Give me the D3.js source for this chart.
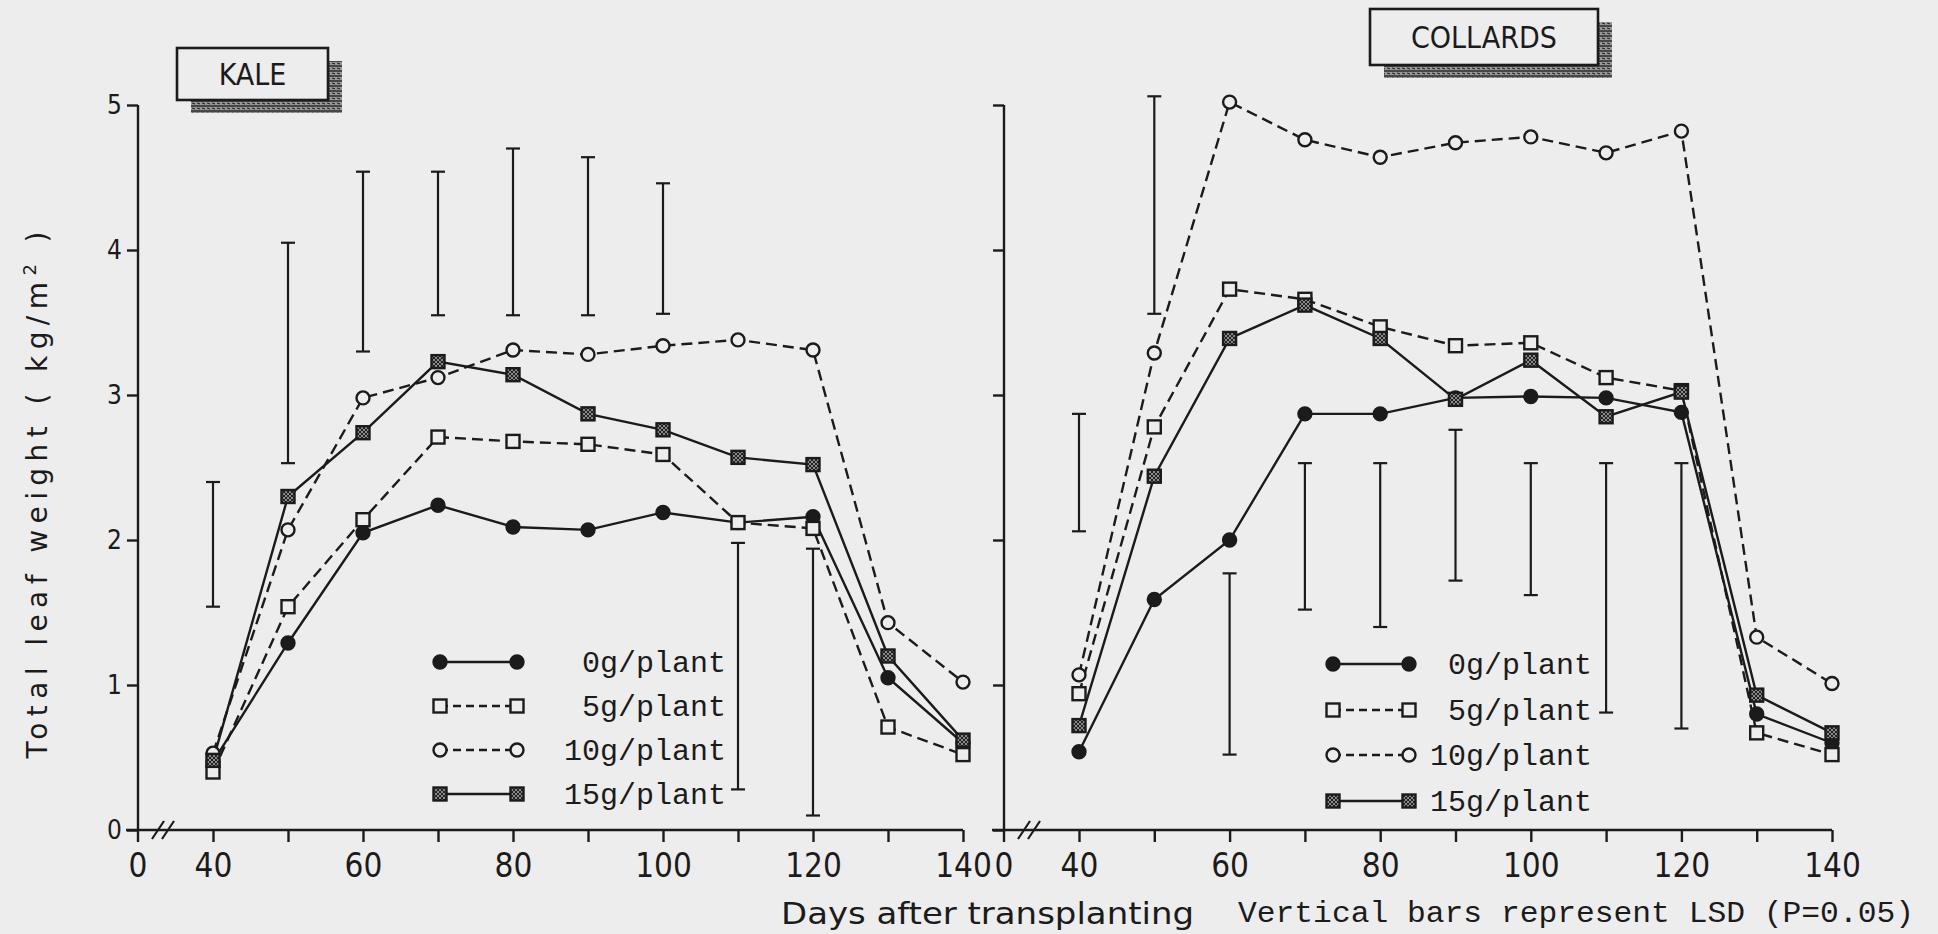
<!DOCTYPE html>
<html>
<head>
<meta charset="utf-8">
<script src="https://cdn.jsdelivr.net/npm/d3@7"></script>
<style>
body { margin: 0; background: #ededed; }
svg { display: block; }
.axis path, .axis line { stroke: #1b1b1b; stroke-width: 2.4; }
.axis text { font-family: "Liberation Sans Narrow", "DejaVu Sans Condensed", sans-serif; fill: #1b1b1b; }
.series { fill: none; stroke: #1b1b1b; stroke-width: 2.4; }
.lsd { stroke: #1b1b1b; stroke-width: 2.2; }
.mono { font-family: "Liberation Mono", "DejaVu Sans Mono", monospace; fill: #1b1b1b; }
.sans { font-family: "Liberation Sans Narrow", "DejaVu Sans Condensed", sans-serif; fill: #1b1b1b; }
</style>
</head>
<body>
<div id="chart"></div>
<script>
var days = [40, 50, 60, 70, 80, 90, 100, 110, 120, 130, 140];
var xLabels = [40, 60, 80, 100, 120, 140];
var yTicks = [0, 1, 2, 3, 4, 5];
var rates = ["0g/plant", "5g/plant", "10g/plant", "15g/plant"];

// kale, total leaf weight kg/m2
var kale0  = [0.47, 1.29, 2.05, 2.24, 2.09, 2.07, 2.19, 2.12, 2.16, 1.05, 0.60];
var kale5  = [0.40, 1.54, 2.14, 2.71, 2.68, 2.66, 2.59, 2.12, 2.08, 0.71, 0.52];
var kale10 = [0.53, 2.07, 2.98, 3.12, 3.31, 3.28, 3.34, 3.38, 3.31, 1.43, 1.02];
var kale15 = [0.48, 2.30, 2.74, 3.23, 3.14, 2.87, 2.76, 2.57, 2.52, 1.20, 0.62];

// collards
var coll0  = [0.54, 1.59, 2.00, 2.87, 2.87, 2.98, 2.99, 2.98, 2.88, 0.80, 0.60];
var coll5  = [0.94, 2.78, 3.73, 3.66, 3.47, 3.34, 3.36, 3.12, 3.03, 0.67, 0.52];
var coll10 = [1.07, 3.29, 5.02, 4.76, 4.64, 4.74, 4.78, 4.67, 4.82, 1.33, 1.01];
var coll15 = [0.72, 2.44, 3.39, 3.62, 3.39, 2.97, 3.24, 2.85, 3.02, 0.93, 0.67];

// LSD bars (P=0.05)
var lsdDays = [40, 50, 60, 70, 80, 90, 100, 110, 120];
var kaleLsdLow  = [1.54, 2.53, 3.30, 3.55, 3.55, 3.55, 3.56, 0.28, 0.10];
var kaleLsdHigh = [2.40, 4.05, 4.54, 4.54, 4.70, 4.64, 4.46, 1.98, 1.94];
var collLsdLow  = [2.06, 3.56, 0.52, 1.52, 1.40, 1.72, 1.62, 0.81, 0.70];
var collLsdHigh = [2.87, 5.06, 1.77, 2.53, 2.53, 2.76, 2.53, 2.53, 2.53];

var W = 1938, H = 934, ink = "#1b1b1b", paper = "#ededed";

var styles = [
    { marker: "circle", fill: ink, dash: null },
    { marker: "square", fill: paper, dash: "11,6" },
    { marker: "circle", fill: paper, dash: "11,6" },
    { marker: "square", fill: "url(#hatch)", dash: null }
];

var svg = d3.select("#chart").append("svg")
    .attr("width", W)
    .attr("height", H);

var defs = svg.append("defs");
var hatch = defs.append("pattern")
    .attr("id", "hatch")
    .attr("width", 4).attr("height", 4)
    .attr("patternUnits", "userSpaceOnUse");
hatch.append("rect").attr("width", 4).attr("height", 4).attr("fill", "#8a8a8a");
hatch.append("path").attr("d", "M0,0L4,4M4,0L0,4").attr("stroke", "#222").attr("stroke-width", 1);

var speckle = defs.append("pattern")
    .attr("id", "speckle")
    .attr("width", 5).attr("height", 5)
    .attr("patternUnits", "userSpaceOnUse");
speckle.append("rect").attr("width", 5).attr("height", 5).attr("fill", "#9a9a9a");
speckle.append("path").attr("d", "M0,1L5,1M2,3L5,4").attr("stroke", "#2a2a2a").attr("stroke-width", 1.3);

svg.append("rect").attr("width", W).attr("height", H).attr("fill", paper);

var y = d3.scaleLinear().domain([0, 5]).range([830, 105]);

function drawMarker(g, style, cx, cy) {
    if (style.marker == "circle") {
        g.append("circle")
            .attr("cx", cx).attr("cy", cy).attr("r", 6.5)
            .attr("fill", style.fill).attr("stroke", ink).attr("stroke-width", 2.4);
    } else {
        g.append("rect")
            .attr("x", cx - 6.5).attr("y", cy - 6.5)
            .attr("width", 13).attr("height", 13)
            .attr("fill", style.fill).attr("stroke", ink).attr("stroke-width", 2.4);
    }
}

function drawPanel(p) {
    var x = d3.scaleLinear().domain([40, 140]).range(p.xRange);
    var g = svg.append("g");

    // axis lines with the break
    g.append("line")
        .attr("x1", p.axisX - 12).attr("x2", x(140))
        .attr("y1", y(0)).attr("y2", y(0))
        .attr("stroke", ink).attr("stroke-width", 2.6);
    g.append("line")
        .attr("x1", p.axisX).attr("x2", p.axisX)
        .attr("y1", y(0) + 12).attr("y2", y(5))
        .attr("stroke", ink).attr("stroke-width", 2.4);
    [p.axisX + 20, p.axisX + 30].forEach(function(bx) {
        g.append("line")
            .attr("x1", bx - 6).attr("y1", y(0) + 9)
            .attr("x2", bx + 6).attr("y2", y(0) - 9)
            .attr("stroke", ink).attr("stroke-width", 2.2);
    });

    var xAxis = g.append("g")
        .attr("class", "axis")
        .attr("transform", "translate(0," + y(0) + ")")
        .call(d3.axisBottom(x)
            .tickValues(days)
            .tickSize(12)
            .tickPadding(12)
            .tickFormat(function(d) { return xLabels.indexOf(d) >= 0 ? d : ""; }));
    xAxis.select(".domain").remove();
    xAxis.selectAll("text").style("font-size", "33px");

    // the "0" under the y axis, before the break
    xAxis.append("text")
        .attr("x", p.axisX).attr("y", 24)
        .attr("dy", "0.71em")
        .attr("text-anchor", "middle")
        .attr("fill", ink)
        .style("font-size", "33px")
        .text("0");

    var yAxis = g.append("g")
        .attr("class", "axis")
        .attr("transform", "translate(" + p.axisX + ",0)")
        .call(d3.axisLeft(y)
            .tickValues(yTicks)
            .tickSize(11)
            .tickPadding(5)
            .tickFormat(p.yLabels ? d3.format("d") : ""));
    yAxis.select(".domain").remove();
    yAxis.selectAll("text").style("font-size", "26px");

    // LSD bars
    var bars = g.append("g");
    lsdDays.forEach(function(d, i) {
        var bx = x(d);
        bars.append("line").attr("class", "lsd")
            .attr("x1", bx).attr("x2", bx)
            .attr("y1", y(p.lsdHigh[i])).attr("y2", y(p.lsdLow[i]));
        [p.lsdHigh[i], p.lsdLow[i]].forEach(function(v) {
            bars.append("line").attr("class", "lsd")
                .attr("x1", bx - 7).attr("x2", bx + 7)
                .attr("y1", y(v)).attr("y2", y(v));
        });
    });

    var line = d3.line()
        .x(function(d, i) { return x(days[i]); })
        .y(function(d) { return y(d); });

    p.series.forEach(function(values, k) {
        g.append("path")
            .datum(values)
            .attr("class", "series")
            .attr("stroke-dasharray", styles[k].dash)
            .attr("d", line);
    });
    p.series.forEach(function(values, k) {
        values.forEach(function(v, i) {
            drawMarker(g, styles[k], x(days[i]), y(v));
        });
    });

    // legend
    var lg = g.append("g");
    rates.forEach(function(name, k) {
        var ly = p.legendY[k];
        lg.append("line")
            .attr("x1", p.legendX[0]).attr("x2", p.legendX[1])
            .attr("y1", ly).attr("y2", ly)
            .attr("stroke", ink).attr("stroke-width", 2.4)
            .attr("stroke-dasharray", styles[k].dash ? "8,5" : null);
        drawMarker(lg, styles[k], p.legendX[0], ly);
        drawMarker(lg, styles[k], p.legendX[1], ly);
        lg.append("text")
            .attr("class", "mono")
            .attr("x", p.legendText).attr("y", ly + 10)
            .attr("text-anchor", "end")
            .style("font-size", "30px")
            .text(name);
    });

    // title box with shadow
    var b = p.box;
    g.append("rect")
        .attr("x", b[0] + 14).attr("y", b[1] + 13)
        .attr("width", b[2]).attr("height", b[3])
        .attr("fill", "url(#speckle)");
    g.append("rect")
        .attr("x", b[0]).attr("y", b[1])
        .attr("width", b[2]).attr("height", b[3])
        .attr("fill", paper).attr("stroke", ink).attr("stroke-width", 2.6);
    g.append("text")
        .attr("class", "sans")
        .attr("x", b[0] + b[2] / 2).attr("y", b[1] + b[3] / 2 + 11)
        .attr("text-anchor", "middle")
        .style("font-size", "30px")
        .text(p.title);
}

drawPanel({
    title: "KALE",
    axisX: 138,
    xRange: [213, 963],
    yLabels: true,
    series: [kale0, kale5, kale10, kale15],
    lsdLow: kaleLsdLow, lsdHigh: kaleLsdHigh,
    legendX: [440, 517], legendText: 726,
    legendY: [662, 706, 750, 794],
    box: [177, 48, 151, 52]
});

drawPanel({
    title: "COLLARDS",
    axisX: 1004,
    xRange: [1079, 1832],
    yLabels: false,
    series: [coll0, coll5, coll10, coll15],
    lsdLow: collLsdLow, lsdHigh: collLsdHigh,
    legendX: [1333, 1409], legendText: 1592,
    legendY: [664, 710, 755, 801],
    box: [1370, 9, 228, 56]
});

// y axis title
var yt = svg.append("text")
    .attr("class", "sans")
    .attr("transform", "translate(47,495) rotate(-90)")
    .attr("text-anchor", "middle")
    .attr("textLength", 527)
    .attr("lengthAdjust", "spacing")
    .style("font-family", "'DejaVu Sans', sans-serif")
    .style("font-size", "28px");
yt.append("tspan").text("Total leaf weight ( kg/m");
yt.append("tspan").attr("dy", -11).style("font-size", "18px").text("2");
yt.append("tspan").attr("dy", 11).text(" )");

svg.append("text")
    .attr("class", "sans")
    .attr("x", 781).attr("y", 924)
    .attr("textLength", 413)
    .attr("lengthAdjust", "spacingAndGlyphs")
    .style("font-size", "30px")
    .text("Days after transplanting");

svg.append("text")
    .attr("class", "mono")
    .attr("x", 1238).attr("y", 922)
    .attr("textLength", 676)
    .attr("lengthAdjust", "spacingAndGlyphs")
    .style("font-size", "30px")
    .text("Vertical bars represent LSD (P=0.05)");
</script>
</body>
</html>
